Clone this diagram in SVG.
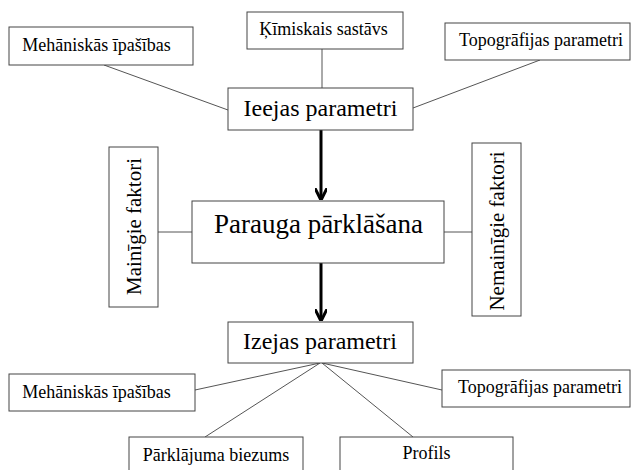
<svg xmlns="http://www.w3.org/2000/svg" width="631" height="470" viewBox="0 0 631 470">
<defs>
<style>
rect{fill:#fff;stroke:#444;stroke-width:1}
text{font-family:'Liberation Serif','Times New Roman','DejaVu Serif',serif;fill:#000;text-anchor:middle}
.s{font-size:18px}
.m{font-size:24px}
.l{font-size:27px}
.v{font-size:21px}
.c line{stroke:#555;stroke-width:1}
.c .a{stroke:#000;stroke-width:3;marker-end:url(#ah)}
</style>
<marker id="ah" viewBox="0 0 10 10" refX="9" refY="5" markerWidth="4" markerHeight="4" orient="auto" markerUnits="strokeWidth">
<path d="M0,0 L10,5 L0,10" fill="none" stroke="#000" stroke-width="2.5"/>
</marker>
</defs>
<rect width="631" height="470" fill="#fff" style="stroke:none"/>
<g class="c" id="connectors">
<line x1="104" y1="65" x2="228" y2="110"/>
<line x1="322" y1="49" x2="322" y2="88"/>
<line x1="540" y1="60" x2="413" y2="108"/>
<line class="a" x1="321" y1="130" x2="321" y2="199"/>
<line x1="158" y1="232" x2="192" y2="232"/>
<line x1="444" y1="232" x2="472" y2="232"/>
<line class="a" x1="321" y1="263" x2="321" y2="320"/>
<line x1="195" y1="390" x2="320" y2="363"/>
<line x1="205" y1="437" x2="320" y2="363"/>
<line x1="442" y1="390" x2="322" y2="363"/>
<line x1="413" y1="437" x2="322" y2="363"/>
</g>
<g id="meh-top"><rect x="9" y="27" width="184" height="38"/><text class="s" x="96.5" y="51">Mehāniskās īpašības</text></g>
<g id="kim"><rect x="247" y="12" width="156" height="37"/><text class="s" x="323.5" y="35">Ķīmiskais sastāvs</text></g>
<g id="topo-top"><rect x="445" y="23" width="185" height="37"/><text class="s" x="541" y="46">Topogrāfijas parametri</text></g>
<g id="ieejas"><rect x="228" y="88" width="185" height="42"/><text class="m" x="320.5" y="116">Ieejas parametri</text></g>
<g id="parauga"><rect x="192" y="201" width="252" height="62"/><text class="l" x="318.5" y="233">Parauga pārklāšana</text></g>
<g id="mainigie"><rect x="109" y="147" width="49" height="160"/><text class="v" transform="translate(141,226.5) rotate(-90)">Mainīgie faktori</text></g>
<g id="nemainigie"><rect x="472" y="143" width="49" height="173"/><text class="v" transform="translate(504,231) rotate(-90)">Nemainīgie faktori</text></g>
<g id="izejas"><rect x="228" y="322" width="185" height="41"/><text class="m" x="320" y="349">Izejas parametri</text></g>
<g id="meh-bot"><rect x="9" y="374" width="186" height="37"/><text class="s" x="96.5" y="398">Mehāniskās īpašības</text></g>
<g id="topo-bot"><rect x="442" y="370" width="188" height="37"/><text class="s" x="540" y="393">Topogrāfijas parametri</text></g>
<g id="biezums"><rect x="129" y="437" width="174" height="40"/><text class="s" x="216" y="461">Pārklājuma biezums</text></g>
<g id="profils"><rect x="340" y="437" width="173" height="40"/><text class="s" x="426.5" y="459">Profils</text></g>
</svg>
